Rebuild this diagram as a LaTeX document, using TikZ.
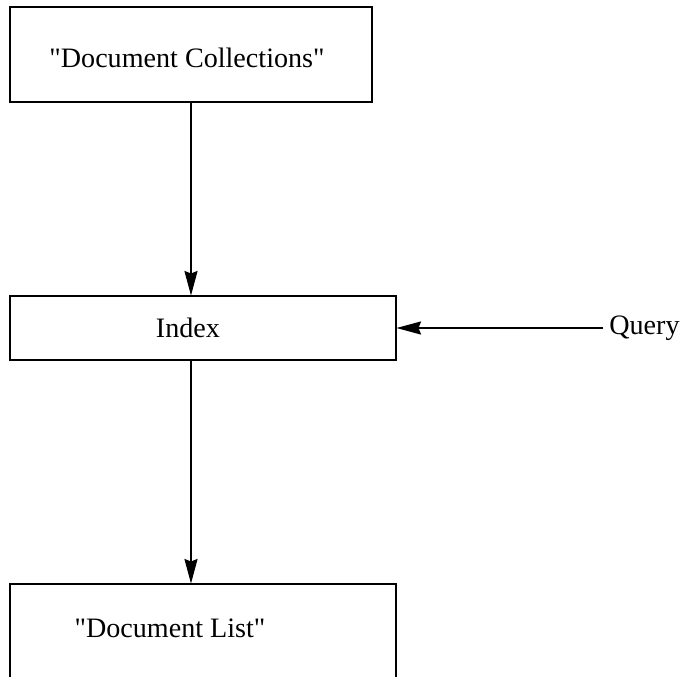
\documentclass[tikz,border=0pt]{standalone}
\usepackage{fontspec}
\setmainfont{Liberation Serif}
\usetikzlibrary{arrows.meta}

\begin{document}
\begin{tikzpicture}[x=0.02cm, y=-0.02cm, line width=0.6pt,
    >={Stealth[length=14pt, width=7.5pt, inset=1.5pt]},
    box/.style={draw, rectangle, inner sep=0pt},
    txt/.style={font=\fontsize{16}{19}\selectfont}]
    \useasboundingbox (0,0) rectangle (686,676);
    \clip (0,0) rectangle (686,676);

    % Boxes
    \node[box, minimum width=362*0.02cm, minimum height=95*0.02cm] (coll) at (191,54.5) {};
    \node[box, minimum width=386*0.02cm, minimum height=64*0.02cm] (index) at (203,328) {};
    \node[box, minimum width=386*0.02cm, minimum height=184*0.02cm] (list) at (203,676) {};

    % Texts
    \node[txt] (collT) at (187,58) {\textquotedbl Document Collections\textquotedbl};
    \node[txt] (indexT) at (188,328) {Index};
    \node[txt] (listT) at (170,628) {\textquotedbl Document List\textquotedbl};
    \node[txt, anchor=west] (query) at (603,328) {Query};

    % Arrows
    \draw[->] (coll.south) -- (coll.south |- index.north);
    \draw[->] (index.south -| coll.south) -- (list.north -| coll.south);
    \draw[->] (query.west) -- (query.west -| index.east);
\end{tikzpicture}
\end{document}
